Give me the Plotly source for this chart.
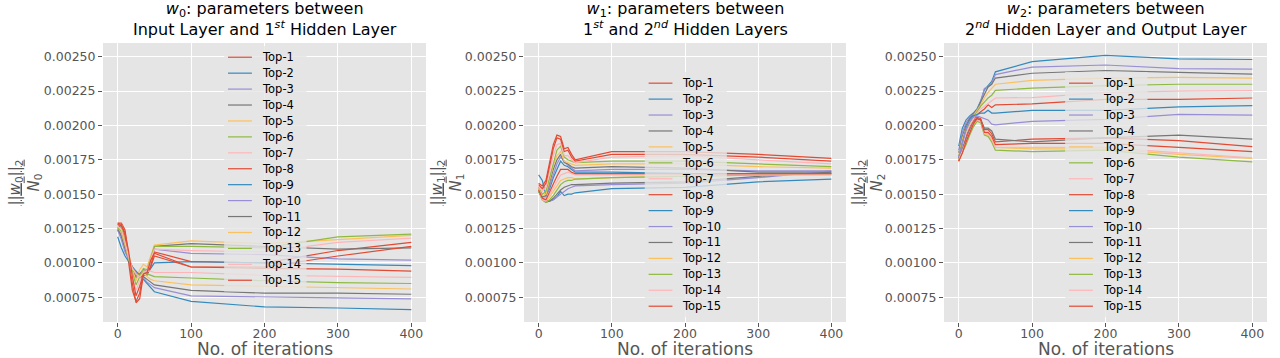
import plotly.graph_objects as go
from plotly.subplots import make_subplots

# ---------------- data
iters = [0, 5, 10, 15, 20, 25, 30, 35, 40, 45, 50, 100, 200, 300, 400]
series_names = [f"Top-{k}" for k in range(1, 16)]
ggplot_colors = ["#E24A33", "#348ABD", "#988ED5", "#777777", "#FBC15E", "#8EBA42", "#FFB5B8"]

# w0 : Input Layer -> 1st Hidden Layer  (Top-1 ... Top-15)
w0_norm = [
    [0.00129, 0.00129, 0.00124, 0.00105, 0.00085, 0.00071, 0.00074, 0.00091, 0.00091, 0.00098, 0.00108, 0.00101, 0.00100, 0.00109, 0.00115],
    [0.00124, 0.00119, 0.00110, 0.00102, 0.00096, 0.00091, 0.00091, 0.00093, 0.00092, 0.00096, 0.00100, 0.00101, 0.00100, 0.00099, 0.00098],
    [0.00125, 0.00122, 0.00113, 0.00103, 0.00096, 0.00090, 0.00092, 0.00094, 0.00093, 0.00101, 0.00110, 0.00107, 0.00106, 0.00103, 0.00102],
    [0.00127, 0.00126, 0.00116, 0.00104, 0.00095, 0.00089, 0.00092, 0.00095, 0.00094, 0.00103, 0.00112, 0.00114, 0.00112, 0.00110, 0.00111],
    [0.00128, 0.00127, 0.00118, 0.00106, 0.00095, 0.00087, 0.00095, 0.00099, 0.00097, 0.00105, 0.00113, 0.00116, 0.00114, 0.00117, 0.00120],
    [0.00128, 0.00127, 0.00117, 0.00104, 0.00093, 0.00084, 0.00090, 0.00096, 0.00095, 0.00104, 0.00112, 0.00112, 0.00111, 0.00119, 0.00121],
    [0.00129, 0.00128, 0.00120, 0.00106, 0.00090, 0.00080, 0.00087, 0.00094, 0.00094, 0.00103, 0.00110, 0.00109, 0.00108, 0.00115, 0.00118],
    [0.00129, 0.00128, 0.00120, 0.00100, 0.00080, 0.00072, 0.00078, 0.00093, 0.00092, 0.00097, 0.00105, 0.00097, 0.00097, 0.00105, 0.00112],
    [0.00119, 0.00111, 0.00105, 0.00101, 0.00097, 0.00094, 0.00091, 0.00088, 0.00085, 0.00082, 0.00079, 0.00072, 0.00068, 0.000672, 0.00066],
    [0.00124, 0.00117, 0.00108, 0.00102, 0.00097, 0.00093, 0.00090, 0.00089, 0.00086, 0.00084, 0.00082, 0.00076, 0.00075, 0.000745, 0.000738],
    [0.00125, 0.00120, 0.00111, 0.00103, 0.00097, 0.00092, 0.00091, 0.00090, 0.00088, 0.00086, 0.00084, 0.00080, 0.00078, 0.00078, 0.000772],
    [0.00126, 0.00122, 0.00113, 0.00103, 0.00096, 0.00092, 0.00090, 0.00093, 0.00090, 0.00088, 0.00087, 0.00084, 0.00083, 0.00082, 0.00081],
    [0.00126, 0.00123, 0.00114, 0.00103, 0.00095, 0.00092, 0.00091, 0.00093, 0.00092, 0.00091, 0.00090, 0.00089, 0.00087, 0.000857, 0.00085],
    [0.00127, 0.00124, 0.00115, 0.00104, 0.00096, 0.00092, 0.00090, 0.00093, 0.00094, 0.00094, 0.00093, 0.00093, 0.00091, 0.000905, 0.000895],
    [0.00128, 0.00127, 0.00122, 0.00108, 0.00090, 0.00076, 0.00083, 0.00092, 0.00093, 0.00102, 0.00107, 0.00097, 0.00096, 0.000955, 0.00094],
]

# w1 : 1st -> 2nd Hidden Layer
w1_norm = [
    [0.00158, 0.00156, 0.00160, 0.00172, 0.00186, 0.00193, 0.00192, 0.00183, 0.00184, 0.00179, 0.00175, 0.00181, 0.00181, 0.00179, 0.00176],
    [0.00164, 0.00160, 0.00149, 0.00154, 0.00162, 0.00168, 0.00174, 0.00171, 0.00170, 0.00168, 0.00166, 0.00166, 0.00165, 0.00164, 0.00165],
    [0.00154, 0.00148, 0.00148, 0.00156, 0.00165, 0.00172, 0.00177, 0.00174, 0.00171, 0.00169, 0.00167, 0.00168, 0.00168, 0.00167, 0.00167],
    [0.00154, 0.00148, 0.00149, 0.00158, 0.00168, 0.00175, 0.00179, 0.00173, 0.00172, 0.00170, 0.00169, 0.00170, 0.00169, 0.00166, 0.00166],
    [0.00155, 0.00149, 0.00150, 0.00160, 0.00171, 0.00178, 0.00181, 0.00174, 0.00173, 0.00172, 0.00171, 0.00172, 0.00172, 0.00170, 0.00169],
    [0.00155, 0.00150, 0.00152, 0.00162, 0.00174, 0.00182, 0.00185, 0.00177, 0.00175, 0.00174, 0.00173, 0.00174, 0.00174, 0.00172, 0.00170],
    [0.00156, 0.00152, 0.00155, 0.00166, 0.00178, 0.00186, 0.00187, 0.00178, 0.00178, 0.00175, 0.00173, 0.00177, 0.00178, 0.00175, 0.00172],
    [0.00157, 0.00154, 0.00158, 0.00170, 0.00183, 0.00191, 0.00190, 0.00181, 0.00182, 0.00177, 0.00174, 0.00179, 0.00179, 0.00177, 0.00174],
    [0.00152, 0.00147, 0.00145, 0.00145, 0.00146, 0.00148, 0.00152, 0.00149, 0.00150, 0.00150, 0.00151, 0.00154, 0.00155, 0.00159, 0.00161],
    [0.00153, 0.00146, 0.00145, 0.00145, 0.00146, 0.00148, 0.00150, 0.00152, 0.00154, 0.00155, 0.00156, 0.00157, 0.00158, 0.00162, 0.00167],
    [0.00153, 0.00146, 0.00144, 0.00145, 0.00147, 0.00150, 0.00153, 0.00155, 0.00156, 0.00157, 0.00157, 0.00158, 0.00159, 0.00163, 0.00166],
    [0.00153, 0.00146, 0.00145, 0.00148, 0.00152, 0.00156, 0.00160, 0.00161, 0.00162, 0.00162, 0.00161, 0.00162, 0.00163, 0.00164, 0.00164],
    [0.00152, 0.00146, 0.00144, 0.00146, 0.00149, 0.00153, 0.00157, 0.00159, 0.00160, 0.00160, 0.00161, 0.00162, 0.00163, 0.00164, 0.00165],
    [0.00154, 0.00146, 0.00145, 0.00150, 0.00155, 0.00160, 0.00164, 0.00165, 0.00166, 0.00165, 0.00164, 0.00164, 0.00164, 0.00164, 0.00164],
    [0.00153, 0.00147, 0.00146, 0.00152, 0.00158, 0.00163, 0.00168, 0.00168, 0.00168, 0.00166, 0.00165, 0.00165, 0.00165, 0.00165, 0.00165],
]

# w2 : 2nd Hidden Layer -> Output Layer
w2_norm = [
    [0.00175, 0.00184, 0.00192, 0.00199, 0.00204, 0.00208, 0.00210, 0.00212, 0.00215, 0.00213, 0.00215, 0.002157, 0.00219, 0.00219, 0.00220],
    [0.00185, 0.00198, 0.00204, 0.00207, 0.00209, 0.00212, 0.00218, 0.00226, 0.00229, 0.00232, 0.00239, 0.002464, 0.00251, 0.002485, 0.00248],
    [0.00182, 0.00195, 0.00202, 0.00206, 0.00208, 0.00211, 0.00217, 0.00227, 0.00228, 0.00231, 0.00237, 0.002425, 0.00244, 0.002413, 0.00241],
    [0.00180, 0.00192, 0.00200, 0.00205, 0.00208, 0.00211, 0.00217, 0.00223, 0.00228, 0.00230, 0.002345, 0.00238, 0.00240, 0.002386, 0.002374],
    [0.00178, 0.00190, 0.00198, 0.00203, 0.00207, 0.00211, 0.00215, 0.00220, 0.00224, 0.00227, 0.00230, 0.002328, 0.002345, 0.00235, 0.002345],
    [0.00177, 0.00188, 0.00196, 0.00202, 0.00206, 0.00210, 0.00214, 0.00217, 0.00220, 0.00222, 0.002255, 0.002272, 0.00229, 0.00230, 0.00230],
    [0.00176, 0.00186, 0.00194, 0.00200, 0.00205, 0.00209, 0.00212, 0.00214, 0.00216, 0.00218, 0.00220, 0.002203, 0.00224, 0.00225, 0.002254],
    [0.00174, 0.00181, 0.00189, 0.00196, 0.00202, 0.00206, 0.00205, 0.00197, 0.00197, 0.00194, 0.00188, 0.00190, 0.00191, 0.00189, 0.001846],
    [0.00176, 0.00187, 0.00198, 0.00204, 0.00207, 0.00208, 0.00209, 0.00209, 0.00211, 0.00209, 0.00209, 0.00211, 0.00211, 0.002135, 0.002145],
    [0.00177, 0.00188, 0.00197, 0.00203, 0.00206, 0.00207, 0.00206, 0.00205, 0.00204, 0.00201, 0.002005, 0.00203, 0.002045, 0.00208, 0.002075],
    [0.00175, 0.00183, 0.00190, 0.00197, 0.00202, 0.00205, 0.00204, 0.00198, 0.00198, 0.00196, 0.00190, 0.00188, 0.00191, 0.00193, 0.00190],
    [0.00175, 0.00180, 0.00187, 0.00194, 0.00200, 0.00204, 0.00203, 0.00194, 0.00193, 0.00189, 0.00184, 0.00183, 0.00183, 0.00179, 0.00176],
    [0.00175, 0.00180, 0.00186, 0.00193, 0.00199, 0.00203, 0.00202, 0.00193, 0.00192, 0.00188, 0.00182, 0.00181, 0.00182, 0.00177, 0.001735],
    [0.00175, 0.00181, 0.00188, 0.00195, 0.00201, 0.00204, 0.00203, 0.00194, 0.00194, 0.00190, 0.00184, 0.00184, 0.00184, 0.00180, 0.001765],
    [0.00174, 0.00180, 0.00188, 0.00195, 0.00201, 0.00205, 0.00204, 0.00195, 0.00195, 0.00192, 0.00186, 0.00187, 0.00187, 0.00184, 0.00181],
]

panel_titles = [
    "<i>w</i><sub>0</sub>: parameters between<br>Input Layer and 1<sup><i>st</i></sup> Hidden Layer",
    "<i>w</i><sub>1</sub>: parameters between<br>1<sup><i>st</i></sup> and 2<sup><i>nd</i></sup> Hidden Layers",
    "<i>w</i><sub>2</sub>: parameters between<br>2<sup><i>nd</i></sup> Hidden Layer and Output Layer",
]
ylabels = [
    "<u>||<i>w</i><sub>0</sub>||<sub>2</sub></u><br><i>N</i><sub>0</sub>",
    "<u>||<i>w</i><sub>1</sub>||<sub>2</sub></u><br><i>N</i><sub>1</sub>",
    "<u>||<i>w</i><sub>2</sub>||<sub>2</sub></u><br><i>N</i><sub>2</sub>",
]
xlabel = "No. of iterations"

# ---------------- layout helpers
W, H = 1280, 358
FONT = "DejaVu Sans"
panel_px = [(103, 426), (524, 846), (944, 1267)]   # plot area left/right in px
top_px, bot_px = 43, 322
ylab_px = [25, 447, 868]
legend_first_row = [0.949, 0.856, 0.856]          # in axis-domain units
row_step = 0.0571

fig = make_subplots(rows=1, cols=3)

for p, data in enumerate([w0_norm, w1_norm, w2_norm]):
    for k, vals in enumerate(data):
        fig.add_trace(go.Scatter(x=iters, y=vals, mode="lines", name=series_names[k],
                                 line=dict(color=ggplot_colors[k % 7], width=1.2),
                                 showlegend=False), row=1, col=p + 1)

axis_common = dict(showgrid=True, gridcolor="white", gridwidth=1, zeroline=False,
                   ticks="outside", ticklen=4, tickcolor="#555555", showline=False,
                   automargin=False,
                   tickfont=dict(family=FONT, size=12.5, color="#555555"))

for p in range(3):
    x0, x1 = panel_px[p]
    fig.update_xaxes(axis_common, domain=[x0 / W, x1 / W], range=[-20, 420],
                     tickvals=[0, 100, 200, 300, 400], ticklabelstandoff=-4,
                     row=1, col=p + 1)
    fig.update_yaxes(axis_common, domain=[1 - bot_px / H, 1 - top_px / H],
                     range=[0.00057, 0.0026], tick0=0.00075, dtick=0.00025,
                     tickformat=".5f", row=1, col=p + 1)

    # titles
    fig.add_annotation(text=panel_titles[p], xref="paper", yref="paper",
                       x=(x0 + x1) / 2 / W, y=1 - 41 / H, xanchor="center", yanchor="bottom",
                       showarrow=False, font=dict(family=FONT, size=16, color="black"))
    # x label
    fig.add_annotation(text=xlabel, xref="paper", yref="paper",
                       x=(x0 + x1) / 2 / W, y=1 - 349 / H, xanchor="center", yanchor="middle",
                       showarrow=False, font=dict(family=FONT, size=17, color="#555555"))
    # y label as a fraction
    fig.add_annotation(text=ylabels[p], xref="paper", yref="paper",
                       x=ylab_px[p] / W, y=1 - (top_px + bot_px) / 2 / H,
                       textangle=-90, showarrow=False, xanchor="center", yanchor="middle",
                       font=dict(family=FONT, size=15, color="#555555"))

    # compact legend (plotly's own legend rows are too tall for 15 entries here)
    suf = "" if p == 0 else str(p + 1)
    xr, yr = f"x{suf} domain", f"y{suf} domain"
    y_first = legend_first_row[p]
    y_last = y_first - 14 * row_step
    fig.add_shape(type="rect", xref=xr, yref=yr, x0=0.375, x1=0.63,
                  y0=y_last - 0.04, y1=y_first + 0.04, layer="above",
                  fillcolor="rgba(229,229,229,0.8)", line=dict(width=0))
    for k in range(15):
        yy = y_first - k * row_step
        fig.add_shape(type="line", xref=xr, yref=yr, x0=0.387, x1=0.461, y0=yy, y1=yy,
                      layer="above", line=dict(color=ggplot_colors[k % 7], width=1.2))
        fig.add_annotation(text=series_names[k], xref=xr, yref=yr, x=0.486, y=yy,
                           xanchor="left", yanchor="middle", showarrow=False,
                           font=dict(family=FONT, size=11.5, color="black"))

fig.update_layout(width=W, height=H, margin=dict(l=0, r=0, t=0, b=0),
                  paper_bgcolor="white", plot_bgcolor="#E5E5E5",
                  font=dict(family=FONT), showlegend=False)

# the page body has a default 8px margin; drop it so the figure sits at the corner
fig.write_html("out.html", config={"displayModeBar": False},
               post_script="document.body.style.margin = '0';")
